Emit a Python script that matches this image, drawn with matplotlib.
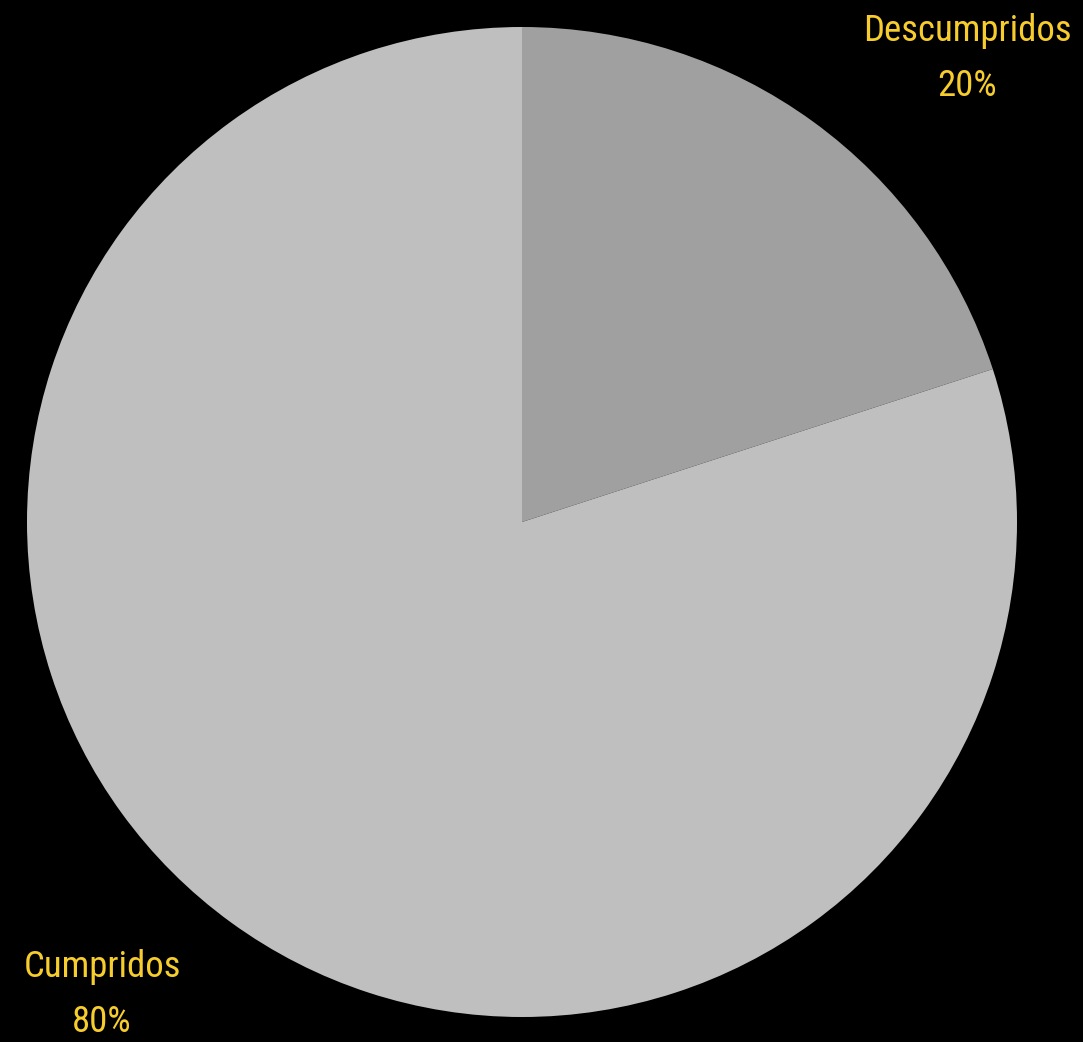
import matplotlib.pyplot as plt
from matplotlib import font_manager

categories = ['Descumpridos', 'Cumpridos']
values = [20, 80]
colors = ['#a0a0a0', '#bfbfbf']

names = {f.name for f in font_manager.fontManager.ttflist}
fam = 'Roboto'
for cand in ['Roboto Condensed', 'Archivo Narrow', 'Liberation Sans Narrow', 'Barlow Semi Condensed']:
    if cand in names:
        fam = cand
        break

W, H = 1083, 1042
fig = plt.figure(figsize=(W / 100, H / 100), dpi=100, facecolor='black')
ax = fig.add_axes([27 / W, (H - 1017) / H, 990 / W, 990 / H])
ax.set_facecolor('black')
ax.pie(values, colors=colors, startangle=90, counterclock=False,
       wedgeprops=dict(linewidth=0))
ax.set_xlim(-1, 1)
ax.set_ylim(-1, 1)
ax.set_aspect('equal')
ax.axis('off')

# label positions in pixels (x center, y of first line)
pos = [(967, 31), (102, 967)]
for (px, py), cat, v in zip(pos, categories, values):
    fig.text(px / W, 1 - py / H, cat, ha='center', va='center',
             color='#f7cd2e', fontsize=26.5, family=fam)
    fig.text(px / W, 1 - (py + 55) / H, f'{v}%', ha='center', va='center',
             color='#f7cd2e', fontsize=26.5, family=fam)

fig.savefig('out.png', dpi=100, facecolor='black')
